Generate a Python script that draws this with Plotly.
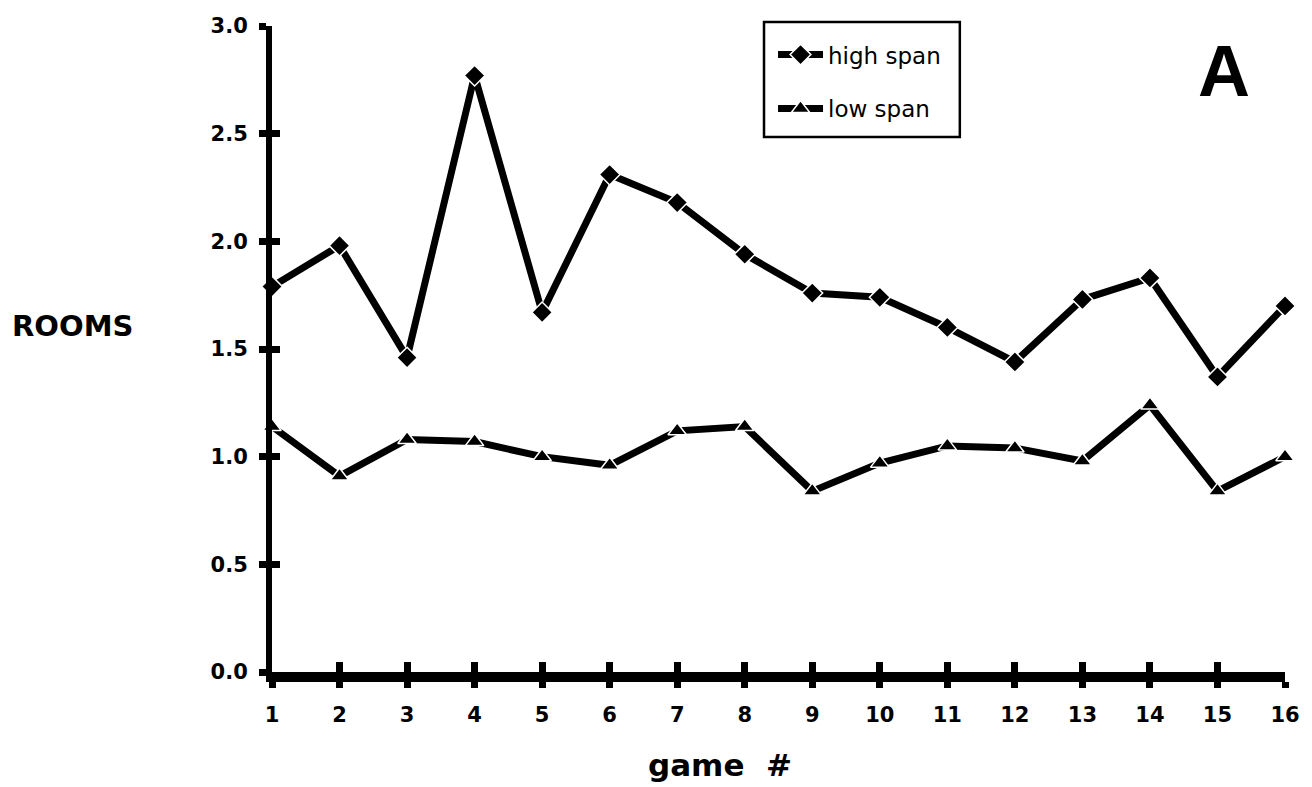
import plotly.graph_objects as go

games = list(range(1, 17))
high_span = [1.79, 1.98, 1.46, 2.77, 1.67, 2.31, 2.18, 1.94, 1.76, 1.74, 1.60, 1.44, 1.73, 1.83, 1.37, 1.70]
low_span = [1.14, 0.91, 1.08, 1.07, 1.00, 0.96, 1.12, 1.14, 0.84, 0.97, 1.05, 1.04, 0.98, 1.24, 0.84, 1.00]
y_ticks = [0.0, 0.5, 1.0, 1.5, 2.0, 2.5, 3.0]
y_tick_text = ["0.0", "0.5", "1.0", "1.5", "2.0", "2.5", "3.0"]

FONT = "DejaVu Sans"

fig = go.Figure()
fig.add_trace(go.Scatter(
    x=games, y=high_span, name="high span", mode="lines+markers",
    line=dict(color="black", width=7),
    marker=dict(symbol="diamond", size=16, color="black", line=dict(color="white", width=1.5)),
    cliponaxis=False, legendgroup="a",
))
fig.add_trace(go.Scatter(
    x=games, y=low_span, name="low span", mode="lines+markers",
    line=dict(color="black", width=7),
    marker=dict(symbol="triangle-up", size=16, color="black", line=dict(color="white", width=1.5)),
    cliponaxis=False, legendgroup="b",
))
# invisible trace on overlay axes so that the inner halves of the ticks are drawn
fig.add_trace(go.Scatter(x=[1], y=[0], xaxis="x2", yaxis="y2", mode="markers",
                         marker=dict(opacity=0), showlegend=False, hoverinfo="skip"))

fig.update_layout(
    width=1312, height=787,
    margin=dict(l=272, r=27, t=26, b=115),
    paper_bgcolor="white", plot_bgcolor="white",
    showlegend=True,
    legend=dict(
        x=0.4946, y=0.989, xanchor="left", yanchor="top",
        borderwidth=0, bgcolor="rgba(0,0,0,0)",
        font=dict(family=FONT, size=23, color="black"),
        tracegroupgap=21, traceorder="grouped", itemwidth=45,
    ),
    xaxis=dict(
        range=[1, 16], tickvals=games, ticktext=[str(g) for g in games],
        showline=True, linecolor="black", linewidth=10,
        ticks="outside", ticklen=6, tickwidth=7, tickcolor="black",
        showgrid=False, zeroline=False,
        tickfont=dict(family=FONT, size=21, color="black", weight="bold"),
        ticklabelstandoff=9,
    ),
    yaxis=dict(
        range=[0, 3], tickvals=y_ticks, ticktext=y_tick_text,
        showline=True, linecolor="black", linewidth=6,
        ticks="outside", ticklen=7, tickwidth=7, tickcolor="black",
        showgrid=False, zeroline=False,
        tickfont=dict(family=FONT, size=21, color="black", weight="bold"),
        ticklabelstandoff=7,
    ),
    xaxis2=dict(
        range=[1, 16], tickvals=games, overlaying="x", anchor="y2", side="bottom",
        showticklabels=False, ticks="inside", ticklen=10, tickwidth=7, tickcolor="black",
        showgrid=False, zeroline=False, showline=False,
    ),
    yaxis2=dict(
        range=[0, 3], tickvals=y_ticks, overlaying="y", anchor="x2", side="left",
        showticklabels=False, ticks="inside", ticklen=8, tickwidth=7, tickcolor="black",
        showgrid=False, zeroline=False, showline=False,
    ),
    shapes=[
        dict(type="rect", xref="paper", yref="paper",
             x0=0.4857, x1=0.679, y0=0.828, y1=1.0062,
             line=dict(color="black", width=2.5), fillcolor="rgba(0,0,0,0)", layer="above"),
    ],
    annotations=[
        dict(text="<b>game  #</b>", xref="paper", yref="paper", x=0.442, y=-0.144,
             xanchor="center", yanchor="middle", showarrow=False,
             font=dict(family=FONT, size=31, color="black")),
        dict(text="<b>ROOMS</b>", xref="paper", yref="paper", x=-0.259, y=0.536,
             xanchor="left", yanchor="middle", showarrow=False,
             font=dict(family=FONT, size=29, color="black")),
        dict(text="<b>A</b>", xref="paper", yref="paper", x=0.94, y=0.93,
             xanchor="center", yanchor="middle", showarrow=False,
             font=dict(family="Liberation Sans", size=72, color="black")),
    ],
)

fig.write_html("out.html")
